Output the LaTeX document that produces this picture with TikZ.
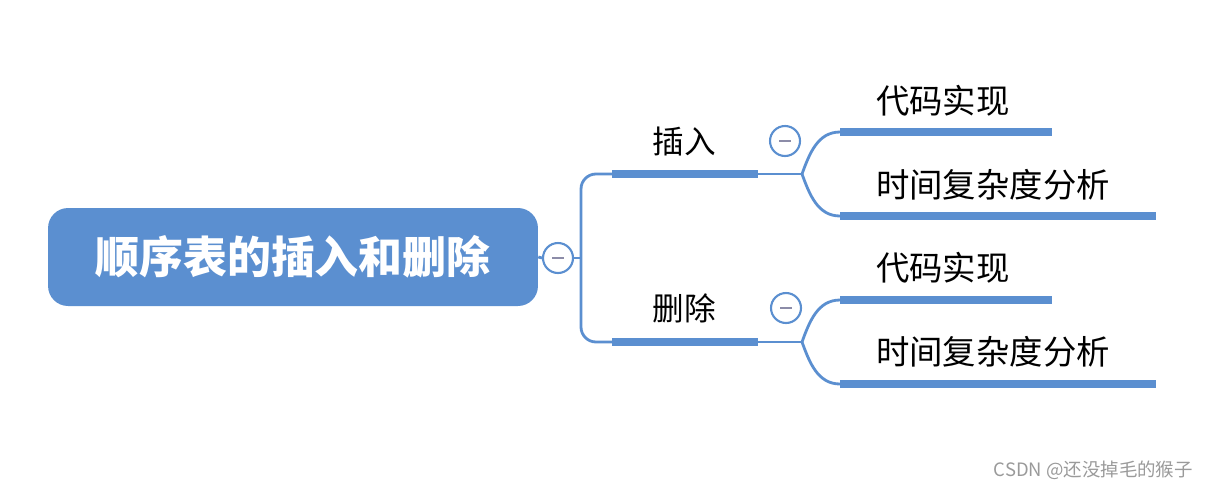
\documentclass[tikz,border=0pt]{standalone}
\usepackage{fontspec}
\setmainfont{Noto Sans CJK SC}
\newfontfamily\cjk{Noto Sans CJK SC}
\definecolor{mapblue}{HTML}{5B8FD0}
\definecolor{minusgray}{HTML}{8C8CA8}
\definecolor{markgray}{HTML}{9A9A9A}
\begin{document}
\begin{tikzpicture}[x=0.02cm, y=-0.02cm,
  topic/.style={draw=none, fill=mapblue, rounded corners=0.4cm, minimum width=9.8cm, minimum height=1.96cm, text=white, font=\cjk\bfseries\fontsize{25}{30}\selectfont},
  fold/.style={circle, draw=mapblue, line width=1.2pt, fill=white, minimum size=0.6cm, inner sep=0pt},
  link/.style={draw=mapblue, line width=1.6pt},
  bar/.style={draw=mapblue, line width=4.6pt},
  branch/.style={font=\cjk\fontsize{18}{22}\selectfont},
  leaf/.style={anchor=west, font=\cjk\fontsize{19}{23}\selectfont}]
\useasboundingbox (0,0) rectangle (1212,491);
% root topic
\node[topic] (root) at (293,257) {顺序表的插入和删除};
\node[fold] (rootfold) at (558,258) {};
\coordinate (trunk) at (581,258);
% first level
\coordinate (ins-l) at (612,174);
\coordinate (ins-r) at (758,174);
\coordinate (ins-fork) at (802,174);
\coordinate (del-l) at (612,342);
\coordinate (del-r) at (758,342);
\coordinate (del-fork) at (802,342);
\node[branch] (ins) at (684,141) {插入};
\node[branch] (del) at (684,308) {删除};
\node[fold] (insfold) at (785,141) {};
\node[fold] (delfold) at (786,308) {};
% second level
\coordinate (ins-code-l) at (840,132);
\coordinate (ins-code-r) at (1052,132);
\coordinate (ins-time-l) at (840,216);
\coordinate (ins-time-r) at (1156,216);
\coordinate (del-code-l) at (840,300);
\coordinate (del-code-r) at (1052,300);
\coordinate (del-time-l) at (840,384);
\coordinate (del-time-r) at (1156,384);
\node[leaf] (inscode) at (870,101) {代码实现};
\node[leaf] (instime) at (870,185) {时间复杂度分析};
\node[leaf] (delcode) at (870,268) {代码实现};
\node[leaf] (deltime) at (870,352) {时间复杂度分析};
% connectors
\draw[link] (root.east) -- (rootfold.west);
\draw[link] (rootfold.east) -- (trunk);
\draw[link, rounded corners=0.3cm] (ins-l) -| (trunk) |- (del-l);
\draw[bar] (ins-l) -- (ins-r);
\draw[bar] (del-l) -- (del-r);
\draw[link] (ins-r) -- (ins-fork);
\draw[link] (del-r) -- (del-fork);
\draw[link] (ins-fork) to[out=70, in=180] (ins-code-l);
\draw[link] (ins-fork) to[out=-70, in=180] (ins-time-l);
\draw[link] (del-fork) to[out=70, in=180] (del-code-l);
\draw[link] (del-fork) to[out=-70, in=180] (del-time-l);
\draw[bar] (ins-code-l) -- (ins-code-r);
\draw[bar] (ins-time-l) -- (ins-time-r);
\draw[bar] (del-code-l) -- (del-code-r);
\draw[bar] (del-time-l) -- (del-time-r);
% minus marks
\foreach \f in {rootfold, insfold, delfold}
  \draw[minusgray, line width=1.2pt] ([xshift=-0.12cm]\f.center) -- ([xshift=0.12cm]\f.center);
% watermark
\node[anchor=east, text=markgray, font=\cjk\fontsize{10.5}{12}\selectfont] (mark) at (1199,470) {CSDN @还没掉毛的猴子};
\end{tikzpicture}
\end{document}
